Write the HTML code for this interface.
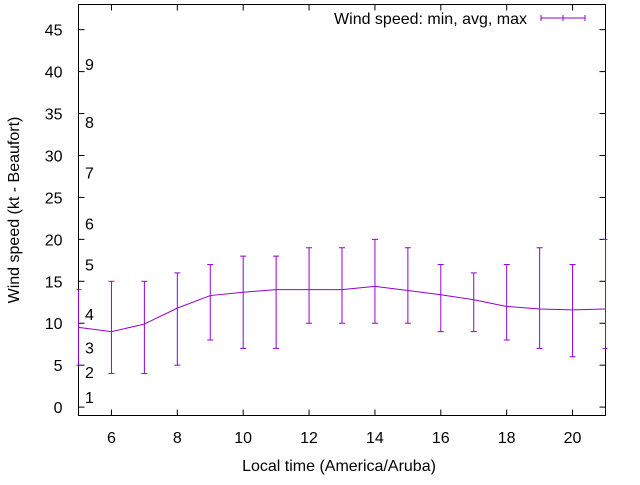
<!DOCTYPE html>
<html><head><meta charset="utf-8"><style>body{margin:0;background:#fff}svg{font-family:"Liberation Sans",sans-serif;font-size:16px}</style></head>
<body>
<svg id="chart" width="640" height="480">
<g id="grid"></g>
</svg>
<script>
const hours=[5,6,7,8,9,10,11,12,13,14,15,16,17,18,19,20,21];
const avgSpeed=[9.5,9,9.9,11.8,13.3,13.7,14,14,14,14.4,13.9,13.4,12.8,12,11.7,11.6,11.7];
const minSpeed=[5,4,4,5,8,7,7,10,10,10,10,9,9,8,7,6,7];
const maxSpeed=[14,15,15,16,17,18,18,19,19,20,19,17,16,17,19,17,20];
const yTicks=[0,5,10,15,20,25,30,35,40,45];
const xTicks=[6,8,10,12,14,16,18,20];
const beaufortLabels=["1","2","3","4","5","6","7","8","9"];
const beaufortY=[1.2,4.2,7.1,11.1,17,21.9,28,34,40.9];
const L=78.5,R=605.5,T=4.5,B=415.5,x0=5,x1=21,y0=-1,y1=48;
const X=v=>L+(v-x0)/(x1-x0)*(R-L);
const Y=v=>B-(v-y0)/(y1-y0)*(B-T);
const svg=document.getElementById('chart');const NS='http://www.w3.org/2000/svg';
function mk(t,a,txt){const e=document.createElementNS(NS,t);for(const k in a)e.setAttribute(k,a[k]);if(txt!==undefined)e.textContent=txt;svg.appendChild(e);return e;}
const C='#9400d3';
yTicks.forEach(v=>{let e=mk('line',{x1:L,x2:L+6,y1:Y(v),y2:Y(v),stroke:'#000'});


e=mk('line',{x1:R-6,x2:R,y1:Y(v),y2:Y(v),stroke:'#000'});


e=mk('text',{x:L-16,y:Y(v)+6,'text-anchor':'end'},v);

});
xTicks.forEach(v=>{let e=mk('line',{x1:X(v),x2:X(v),y1:B,y2:B-6,stroke:'#000'});


e=mk('line',{x1:X(v),x2:X(v),y1:T,y2:T+6,stroke:'#000'});


e=mk('text',{x:X(v),y:443,'text-anchor':'middle'},v);

});
beaufortLabels.forEach((s,i)=>{const e=mk('text',{x:85,y:Y(beaufortY[i])+6},s);

});
let e=mk('rect',{x:L,y:T,width:R-L,height:B-T,fill:'none',stroke:'#000'});


const cp=mk('clipPath',{id:'cp'});const cr=document.createElementNS(NS,'rect');cr.setAttribute('x',L-2);cr.setAttribute('y',T);cr.setAttribute('width',R-L+4);cr.setAttribute('height',B-T);cp.appendChild(cr);
const g=mk('g',{'clip-path':'url(#cp)'});


hours.forEach((h,i)=>{const x=X(h);[['line',{x1:x,x2:x,y1:Y(minSpeed[i]),y2:Y(maxSpeed[i])}],['line',{x1:x-3,x2:x+3,y1:Y(minSpeed[i]),y2:Y(minSpeed[i])}],['line',{x1:x-3,x2:x+3,y1:Y(maxSpeed[i]),y2:Y(maxSpeed[i])}]].forEach(([t,a])=>{const l=document.createElementNS(NS,t);for(const k in a)l.setAttribute(k,a[k]);l.setAttribute('stroke',C);
g.appendChild(l);});});
const pl=document.createElementNS(NS,'polyline');pl.setAttribute('points',hours.map((h,i)=>X(h)+','+Y(avgSpeed[i])).join(' '));pl.setAttribute('fill','none');pl.setAttribute('stroke',C);


g.appendChild(pl);
e=mk('text',{x:527,y:24,'text-anchor':'end'},'Wind speed: min, avg, max');


e=mk('path',{d:'M541,18H585M541,15V21M585,15V21M563,15V21',stroke:C,fill:'none'});


e=mk('text',{x:339,y:471,'text-anchor':'middle'},'Local time (America/Aruba)');


e=mk('text',{x:0,y:0,'text-anchor':'middle',transform:'translate(19,210) rotate(-90)'},'Wind speed (kt - Beaufort)');


</script>
</body></html>
